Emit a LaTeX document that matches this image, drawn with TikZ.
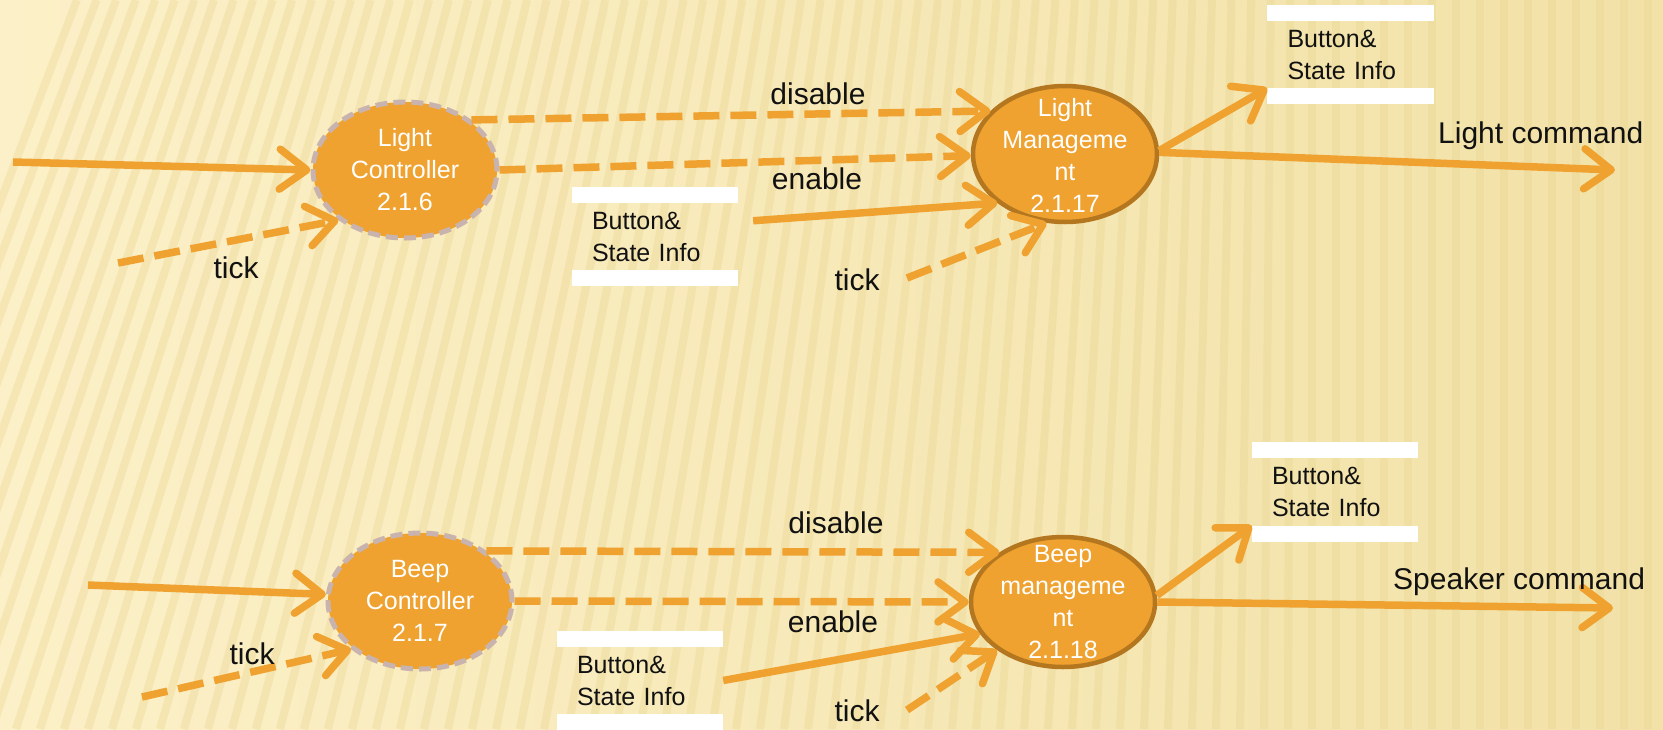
\documentclass[tikz,border=0pt]{standalone}
\usepackage{fontspec}
\setmainfont{Liberation Sans}
\usetikzlibrary{arrows.meta,shapes.geometric}
\definecolor{bgl}{HTML}{FCF0C8}
\definecolor{bgr}{HTML}{F2E2A8}
\definecolor{stripe}{HTML}{E9D48E}
\definecolor{orng}{HTML}{EFA22F}
\definecolor{brn}{HTML}{B4771F}
\definecolor{mauve}{HTML}{C8B3AE}
\definecolor{ink}{HTML}{111111}
\begin{document}
\begin{tikzpicture}[x=1pt,y=-1pt,
  flow/.style={draw=orng, line width=7.5pt, -{Straight Barb[length=27pt,width=40pt,line cap=round,line join=round]}},
  dflow/.style={flow, dash pattern=on 26pt off 11pt},
  ctrl/.style={ellipse, fill=orng, draw=mauve, line width=5pt, dash pattern=on 12pt off 6pt, minimum width=184pt, minimum height=136pt, inner sep=0pt},
  mgmt/.style={ellipse, fill=orng, draw=brn, line width=4.5pt, minimum width=184pt, minimum height=136pt, inner sep=0pt},
  etext/.style={text=white, align=center, font=\fontsize{25}{32}\selectfont, inner sep=0pt},
  store/.style={minimum width=166pt, minimum height=67pt, text width=126pt, inner xsep=20pt, inner ysep=0pt, align=left, text=ink, font=\fontsize{25}{32}\selectfont},
  lbl/.style={font=\fontsize{30}{36}\selectfont, text=ink, inner sep=0pt, anchor=base},
  bar/.style={fill=white}]
\useasboundingbox (0,0) rectangle (1663,729);
\shade[left color=bgl, right color=bgr] (0,0) rectangle (1663,729);
\begin{scope}
\clip (0,0) rectangle (1663,729);
\foreach \i in {0,...,80} {
  \pgfmathsetmacro\xb{-200+\i*24}
  \pgfmathsetmacro\sl{max(0,240*(1-\xb/1300))}
  \draw[stripe, line width=8pt, opacity=0.35] (\xb,729) -- (\xb+\sl,0);
}
\end{scope}

% process bubbles
\node[ctrl] (lc) at (405,170) {};
\node[mgmt] (lm) at (1065,154) {};
\node[ctrl] (bc) at (420,601) {};
\node[mgmt, minimum height=130pt] (bm) at (1063,602) {};

% stores
\node[store] (s1) at (655,236.5) {Button\&\\State Info};
\node[store] (s2) at (1350.5,54.5) {Button\&\\State Info};
\node[store] (s3) at (640,680.5) {Button\&\\State Info};
\node[store] (s4) at (1335,492) {Button\&\\State Info};
\foreach \s in {s1,s2,s3,s4} {
  \fill[bar] (\s.north west) rectangle ([yshift=16pt]\s.north east);
  \fill[bar] (\s.south west) rectangle ([yshift=-16pt]\s.south east);
}

% free ends
\coordinate (in1) at (13,162);
\coordinate (tk1) at (118,263);
\coordinate (tk2) at (907,278);
\coordinate (lcmd) at (1615,170);
\coordinate (in2) at (88,585);
\coordinate (tk3) at (142,697);
\coordinate (tk4) at (907,710);
\coordinate (scmd) at (1613,608);

% top flows
\draw[flow] (in1) -- (lc.180);
\draw[dflow] (tk1) -- (lc.217);
\draw[dflow] (lc.37) -- (lm.150);
\draw[dflow] (lc.0) -- (lm.181);
\draw[flow, shorten <=15pt] (s1.10) -- (lm.216);
\draw[dflow] (tk2) -- (lm.255);
\draw[flow] (lm.2) -- (s2.south west);
\draw[flow] (lm.1) -- (lcmd);

% bottom flows
\draw[flow] (in2) -- (bc.176);
\draw[dflow] (tk3) -- (bc.215);
\draw[dflow] (bc.37) -- (bm.142);
\draw[dflow] (bc.0) -- (bm.180);
\draw[flow] (s3.east) -- (bm.201);
\draw[dflow] (tk4) -- (bm.216);
\draw[flow] (bm.4) -- (s4.south west);
\draw[flow] (bm.0) -- (scmd);

% bubble texts
\node[etext] (lct) at (lc.center) {Light\\Controller\\2.1.6};
\node[etext] (lmt) at (1065,155) {Light\\Manageme\\nt\\2.1.17};
\node[etext] (bct) at (bc.center) {Beep\\Controller\\2.1.7};
\node[etext] (bmt) at (bm.center) {Beep\\manageme\\nt\\2.1.18};

% labels
\node[lbl] (l1) at (818,104) {disable};
\node[lbl] (l2) at (817,189) {enable};
\node[lbl] (l3) at (236,278) {tick};
\node[lbl] (l4) at (857,290) {tick};
\node[lbl, anchor=base west] (l5) at (1438,143) {Light command};
\node[lbl] (l6) at (836,533) {disable};
\node[lbl] (l7) at (833,632) {enable};
\node[lbl] (l8) at (252,664) {tick};
\node[lbl] (l9) at (857,721) {tick};
\node[lbl, anchor=base west] (l10) at (1393,589) {Speaker command};
\end{tikzpicture}
\end{document}
